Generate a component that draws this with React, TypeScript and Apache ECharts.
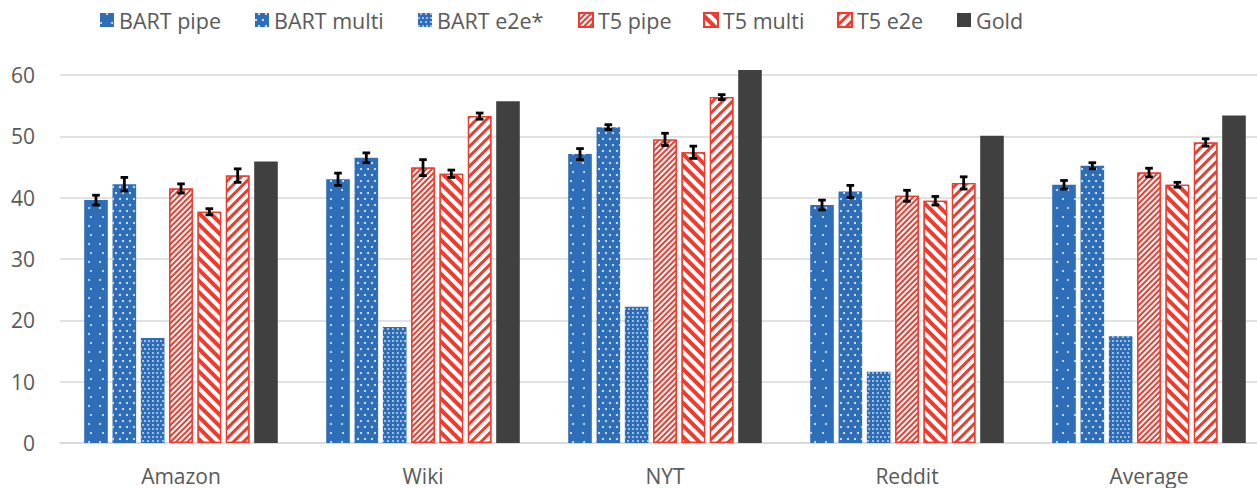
import React, { useEffect, useRef } from "react";
import * as echarts from "echarts";

const categories = ["Amazon", "Wiki", "NYT", "Reddit", "Average"];
const seriesNames = ["BART pipe", "BART multi", "BART e2e*", "T5 pipe", "T5 multi", "T5 e2e", "Gold"];

const bartPipe = [39.6, 43.0, 47.1, 38.8, 42.1];
const bartMulti = [42.2, 46.5, 51.5, 41.0, 45.2];
const bartE2e = [17.1, 18.9, 22.2, 11.6, 17.4];
const t5Pipe = [41.5, 44.9, 49.5, 40.3, 44.1];
const t5Multi = [37.7, 43.9, 47.4, 39.5, 42.1];
const t5E2e = [43.6, 53.3, 56.4, 42.4, 49.0];
const gold = [45.9, 55.7, 60.8, 50.1, 53.4];

const bartPipeErr = [0.8, 1.0, 0.9, 0.8, 0.7];
const bartMultiErr = [1.1, 0.8, 0.4, 1.0, 0.5];
const t5PipeErr = [0.75, 1.3, 1.0, 0.9, 0.7];
const t5MultiErr = [0.5, 0.6, 1.0, 0.7, 0.4];
const t5E2eErr = [1.1, 0.5, 0.4, 1.0, 0.6];

const yTicks = [0, 10, 20, 30, 40, 50, 60];

const BLUE = "#2E6DB8";
const RED = "#EE3B2E";
const GOLD = "#404040";
const TEXT = "#595959";
const GRIDC = "#D9D9D9";
const FONT = "Open Sans";

export default function App() {
  const ref = useRef<HTMLDivElement>(null);
  useEffect(() => {
    if (!ref.current) return;
    const chart = echarts.init(ref.current, undefined, { renderer: "svg" });

    const values = [bartPipe, bartMulti, bartE2e, t5Pipe, t5Multi, t5E2e, gold];
    const errs: (number[] | null)[] = [bartPipeErr, bartMultiErr, null, t5PipeErr, t5MultiErr, t5E2eErr, null];

    const decals: any[] = [
      { symbol: "circle", color: "rgba(255,255,255,0.85)", dashArrayX: [[1.6, 9], [0, 5.3, 1.6, 3.7]], dashArrayY: [1.6, 6.4], symbolSize: 1 },
      { symbol: "circle", color: "rgba(255,255,255,0.9)", dashArrayX: [[1.5, 4.5], [0, 3, 1.5, 1.5]], dashArrayY: [1.5, 3.2], symbolSize: 1 },
      { symbol: "rect", color: "rgba(255,255,255,0.55)", dashArrayX: [[1.3, 1.7], [0, 1.5, 1.3, 0.2]], dashArrayY: [1.3, 1.3], symbolSize: 1 },
      { symbol: "rect", color: RED, dashArrayX: [1, 0], dashArrayY: [1.3, 1.6], rotation: -Math.PI / 4 },
      { symbol: "rect", color: RED, dashArrayX: [1, 0], dashArrayY: [3.4, 3.6], rotation: Math.PI / 4 },
      { symbol: "rect", color: RED, dashArrayX: [1, 0], dashArrayY: [3, 4], rotation: -Math.PI / 4 },
      null,
    ];
    const fills = [BLUE, BLUE, BLUE, "#ffffff", "#ffffff", "#ffffff", GOLD];

    const barSeries: any[] = seriesNames.map((name, i) => ({
      name,
      type: "bar",
      data: values[i],
      clip: false,
      barGap: "20%",
      barCategoryGap: "20%",
      itemStyle: {
        color: fills[i],
        borderColor: i >= 3 && i <= 5 ? RED : undefined,
        borderWidth: i >= 3 && i <= 5 ? 1.2 : 0,
        decal: decals[i] || undefined,
      },
    }));

    const errData: number[][] = [];
    errs.forEach((e, si) => {
      if (!e) return;
      e.forEach((err, ci) => errData.push([ci, values[si][ci], err, si]));
    });

    const errSeries: any = {
      type: "custom",
      name: "err",
      z: 10,
      clip: false,
      data: errData,
      renderItem: (params: any, api: any) => {
        const ci = api.value(0);
        const v = api.value(1);
        const e = api.value(2);
        const si = api.value(3);
        const band = api.size([1, 0])[0];
        const bw = (band * 0.8) / (7 + 6 * 0.2);
        const step = bw * 1.2;
        const c = api.coord([ci, v]);
        const x = c[0] + (si - 3) * step;
        const top = api.coord([ci, v + e])[1];
        const bot = api.coord([ci, v - e])[1];
        const half = 3.8;
        const style = { stroke: "#000", lineWidth: 2.8 };
        return {
          type: "group",
          children: [
            { type: "line", shape: { x1: x, y1: top, x2: x, y2: bot }, style },
            { type: "line", shape: { x1: x - half, y1: top, x2: x + half, y2: top }, style },
            { type: "line", shape: { x1: x - half, y1: bot, x2: x + half, y2: bot }, style },
          ],
        };
      },
    };

    const legendLefts = [100, 255, 418, 578, 703, 837, 957];
    const legends = seriesNames.map((n, i) => ({
      data: [n],
      left: legendLefts[i],
      top: 9,
      padding: 0,
      itemWidth: 14,
      itemHeight: 14,
      icon: "rect",
      selectedMode: false,
      textStyle: { color: TEXT, fontSize: 21.5, fontFamily: FONT },
    }));

    chart.setOption({
      animation: false,
      textStyle: { fontFamily: FONT },
      legend: legends,
      grid: { left: 60, width: 1210, top: 75, bottom: 45, containLabel: false, outerBoundsMode: "none" },
      xAxis: {
        type: "category",
        data: categories,
        axisLine: { lineStyle: { color: GRIDC, width: 1.5 } },
        axisTick: { show: false },
        axisLabel: { color: TEXT, fontSize: 21, lineHeight: 21, fontFamily: FONT, margin: 22 },
      },
      yAxis: {
        type: "value",
        min: yTicks[0],
        max: yTicks[yTicks.length - 1],
        interval: 10,
        axisLine: { show: false },
        axisTick: { show: false },
        splitLine: { lineStyle: { color: GRIDC, width: 1.5 } },
        axisLabel: { color: TEXT, fontSize: 21, fontFamily: FONT, margin: 25 },
      },
      series: [...barSeries, errSeries],
    });
    return () => chart.dispose();
  }, []);
  return (
    <div
      ref={ref}
      style={{ position: "absolute", left: 0, top: 0, width: 1257, height: 488, background: "#fff" }}
    />
  );
}
